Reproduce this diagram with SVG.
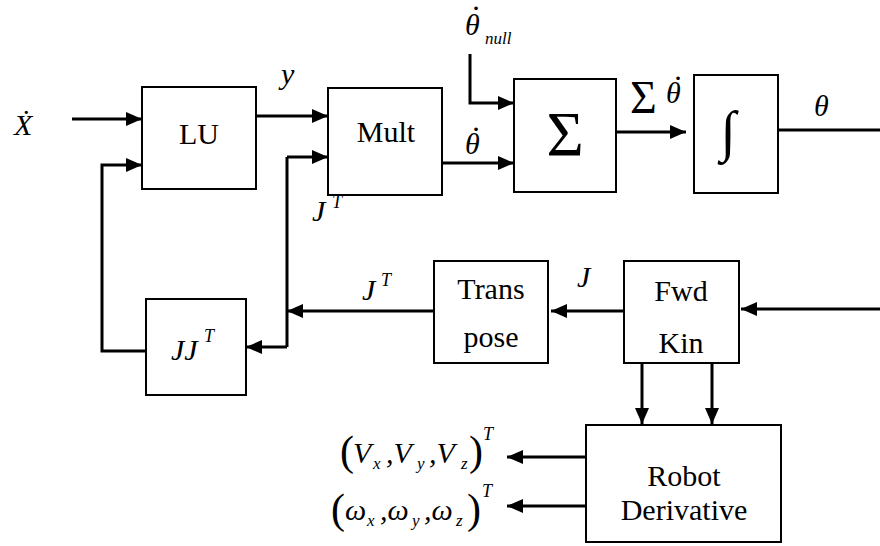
<svg xmlns="http://www.w3.org/2000/svg" width="880" height="546" viewBox="0 0 880 546">
<defs>
<marker id="ah" markerUnits="userSpaceOnUse" markerWidth="16" markerHeight="14" refX="16" refY="7" orient="auto">
<path d="M0,0 L16,7 L0,14 z" fill="#000"/>
</marker>
</defs>
<rect width="880" height="546" fill="#fff"/>
<g id="connectors" fill="none" stroke="#000" stroke-width="3" marker-end="url(#ah)">
<path d="M72,119 H142"/>
<path d="M256,116 H328"/>
<path d="M146,351 H102 V165 H142"/>
<path d="M434,311 H287"/>
<path d="M287,157 V347" marker-end="none"/>
<path d="M287,157 H328"/>
<path d="M287,347 H246"/>
<path d="M442,163 H514"/>
<path d="M470,54 V103 H514"/>
<path d="M616,132 H686"/>
<path d="M778,130 H880" marker-end="none"/>
<path d="M880,309 H741"/>
<path d="M624,311 H551"/>
<path d="M642,363 V424"/>
<path d="M712,363 V424"/>
<path d="M586,457 H507"/>
<path d="M586,506 H507"/>
</g>
<g id="LU"><rect x="142" y="87" width="114" height="102" fill="#fff" stroke="#000" stroke-width="2"/><text font-family="Liberation Serif" font-size="30" x="199" y="144" text-anchor="middle">LU</text></g>
<g id="Mult"><rect x="328" y="88" width="114" height="107" fill="#fff" stroke="#000" stroke-width="2"/><text font-family="Liberation Serif" font-size="30" x="386" y="142" text-anchor="middle">Mult</text></g>
<g id="Sum"><rect x="514" y="79" width="102" height="113" fill="#fff" stroke="#000" stroke-width="2"/><text font-family="Liberation Serif" x="565" y="156" text-anchor="middle" font-size="64">Σ</text></g>
<g id="Integral"><rect x="694" y="75" width="84" height="118" fill="#fff" stroke="#000" stroke-width="2"/><text font-family="Liberation Serif" x="728" y="150" text-anchor="middle" font-size="56">∫</text></g>
<g id="JJT"><rect x="146" y="299" width="100" height="96" fill="#fff" stroke="#000" stroke-width="2"/><text font-family="Liberation Serif" font-size="30" x="171" y="360" font-style="italic">JJ<tspan font-size="18" x="204" y="342">T</tspan></text></g>
<g id="Transpose"><rect x="434" y="261" width="114" height="102" fill="#fff" stroke="#000" stroke-width="2"/><text font-family="Liberation Serif" font-size="30" x="491" y="299" text-anchor="middle">Trans</text><text font-family="Liberation Serif" font-size="30" x="491" y="347" text-anchor="middle">pose</text></g>
<g id="FwdKin"><rect x="624" y="261" width="115" height="102" fill="#fff" stroke="#000" stroke-width="2"/><text font-family="Liberation Serif" font-size="30" x="681" y="301" text-anchor="middle">Fwd</text><text font-family="Liberation Serif" font-size="30" x="681" y="353" text-anchor="middle">Kin</text></g>
<g id="RobotDerivative"><rect x="586" y="425" width="195" height="117" fill="#fff" stroke="#000" stroke-width="2"/><text font-family="Liberation Serif" font-size="30" x="684" y="486" text-anchor="middle">Robot</text><text font-family="Liberation Serif" font-size="30" x="684" y="520" text-anchor="middle">Derivative</text></g>
<g id="labels">
<text font-family="Liberation Serif" font-size="30" font-style="italic" x="14" y="135">X&#x307;</text>
<text font-family="Liberation Serif" font-size="30" font-style="italic" x="281" y="84">y</text>
<text font-family="Liberation Serif" font-size="30" font-style="italic" x="312" y="221">J<tspan font-size="18" x="332" y="208">T</tspan></text>
<text font-family="Liberation Serif" font-size="30" font-style="italic" x="465" y="154">θ<tspan x="473" y="131">.</tspan></text>
<text font-family="Liberation Serif" font-size="30" font-style="italic" x="465" y="35">θ<tspan x="473" y="10">.</tspan><tspan font-size="17" x="485" y="44">null</tspan></text>
<text font-family="Liberation Serif" x="630" y="113" font-size="46">Σ<tspan font-style="italic" font-size="30" x="666" y="103">θ</tspan><tspan font-style="italic" font-size="30" x="675" y="80">.</tspan></text>
<text font-family="Liberation Serif" font-size="30" font-style="italic" x="814" y="116">θ</text>
<text font-family="Liberation Serif" font-size="30" font-style="italic" x="362" y="300">J<tspan font-size="18" x="381" y="286">T</tspan></text>
<text font-family="Liberation Serif" font-size="30" font-style="italic" x="577" y="287">J</text>
<text font-family="Liberation Serif" x="340" y="465" font-size="42">(<tspan font-style="italic" font-size="30" x="353" y="463">V</tspan><tspan font-style="italic" font-size="17" x="373" y="469">x</tspan><tspan font-style="italic" font-size="30" x="386" y="463">,V</tspan><tspan font-style="italic" font-size="17" x="417" y="469">y</tspan><tspan font-style="italic" font-size="30" x="429" y="463">,V</tspan><tspan font-style="italic" font-size="17" x="461" y="469">z</tspan><tspan x="469" y="465">)</tspan><tspan font-style="italic" font-size="18" x="483" y="440">T</tspan></text>
<text font-family="Liberation Serif" x="331" y="523" font-size="42">(<tspan font-style="italic" font-size="30" x="345" y="520">ω</tspan><tspan font-style="italic" font-size="17" x="367" y="526">x</tspan><tspan font-style="italic" font-size="30" x="380" y="520">,ω</tspan><tspan font-style="italic" font-size="17" x="412" y="526">y</tspan><tspan font-style="italic" font-size="30" x="424" y="520">,ω</tspan><tspan font-style="italic" font-size="17" x="456" y="526">z</tspan><tspan x="467" y="523">)</tspan><tspan font-style="italic" font-size="18" x="482" y="497">T</tspan></text>
</g>
</svg>
